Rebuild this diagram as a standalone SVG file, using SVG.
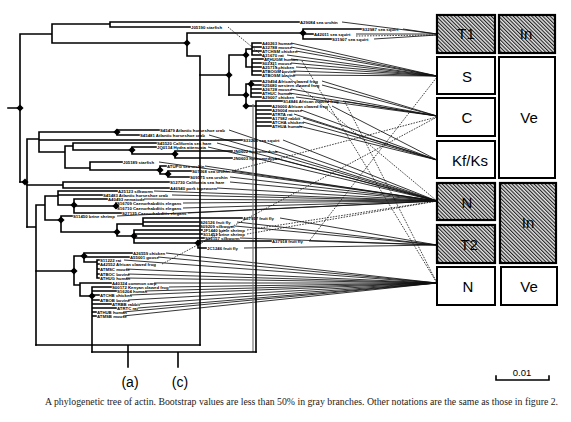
<svg xmlns="http://www.w3.org/2000/svg" xmlns:xlink="http://www.w3.org/1999/xlink" width="571" height="422" viewBox="0 0 571 422">
<style>
.br{stroke:#000;stroke-width:1.6;fill:none;stroke-linecap:square}
.gr{stroke:#777;stroke-width:1.2;fill:none}
.cn{stroke:#111;stroke-width:0.85;fill:none}
.dt{stroke:#111;stroke-width:0.8;fill:none;stroke-dasharray:1.6 1.2}
.lb{font-family:"Liberation Sans",Arial,sans-serif;font-size:4.3px;font-weight:bold;fill:#000}
.bx{stroke:#000;stroke-width:2;fill:#fff}
.hx{stroke:#000;stroke-width:2.2;fill:url(#hatch)}
.bt{font-family:"Liberation Sans",Arial,sans-serif;font-size:15px;fill:#000;text-anchor:middle}
.cap{font-family:"Liberation Serif","Times New Roman",serif;font-size:10px;fill:#222}
</style>
<defs>
<pattern id="hatch" width="2.6" height="2.6" patternUnits="userSpaceOnUse" patternTransform="rotate(-45)">
<rect width="2.6" height="2.6" fill="#e4e4e4"/>
<rect width="1.1" height="2.6" fill="#222"/>
</pattern>
<path id="dm" d="M0,-3.6L3.6,0L0,3.6L-3.6,0Z" fill="#000"/>
</defs>
<rect width="571" height="422" fill="#fff"/>

<g id="connectors">
<path class="cn" d="M342,22L437,34M403,29L437,34M356,34L437,34M374,39L437,35"/>
<path class="cn" d="M291,43L437,76M291,47L437,76M296,51L437,76M287,55L437,76M291,59L437,76M291,63L437,76M296,67L437,76M293,71L437,76M293,75L437,76"/>
<path class="cn" d="M322,81L437,116M322,85L437,116M291,89L437,116M289,93L437,116M296,97L437,116M343,101L437,116"/>
<path class="cn" d="M332,106L437,160M301,110L437,160M294,114L437,160M303,118L437,160M303,122L437,160M299,126L437,160"/>
<path class="cn" d="M229,130L437,201M209,135L437,201M283,140L437,201M217,143L437,201M208,147L437,201M275,151L437,201M275,158L437,201M159,162L437,201M205,166L437,201M232,171L437,201M230,177L437,201M230,182L437,201M217,188L437,201M154,191L437,201M172,195L437,201M144,199L437,201M183,203L437,201M183,208L437,201M188,213L437,201M117,216L437,201"/>
<path class="cn" d="M280,218L437,245M237,222L437,245M235,226L437,245M240,238L437,245M309,241L437,245M244,248L437,245"/>
<path class="cn" d="M166,253L437,283M158,257L437,283M124,260L437,283M126,269L437,283M128,274L437,283M126,278L437,283M154,283L437,283M169,287L437,283M145,291L437,283M130,295L437,283M128,300L437,283M140,304L437,283M138,308L437,283M123,312L437,283M123,316L437,283"/>
<path class="dt" d="M228,27L437,201M247,230L437,201M247,234L437,201M162,264L437,117M232,171L437,117M310,240L437,77M302,61L437,283M345,102L437,283M356,36L437,35"/>
</g>

<g id="tree">
<path class="br" d="M8,108H20M20,34V182M20,34H52M52,24V43M52,24H110M110,22V27M110,22H299M110,27H190M52,43H187M187,33V56M187,33H303M303,29V39M303,29H361M303,34H313M303,39H331M187,56H200M200,56V345"/>
<path class="br" d="M200,75H229M229,55V95M229,55H246M246,49V67M246,49H252M252,43V55M252,43H261M252,47H261M252,51H261M252,55H261M246,67H252M252,59V75M252,59H263M252,63H261M252,67H261M252,71H261M252,75H261"/>
<path class="br" d="M229,95H246M246,84V106M246,84H251M251,81V97M251,81H261M251,85H261M251,89H261M251,93H261M251,97H261M246,106H256M256,101V352M256,101H282M256,106H271M256,110H271M256,114H271M256,118H271M256,122H271M256,126H271"/>
<path class="gr" d="M253,104V352"/>
<path class="br" d="M20,182H27M27,139V227M27,139H39M39,132V152M39,132H117M117,130V135M117,130H159M117,135H139M39,140H242M39,152H65M65,146V168M65,146H73M73,143V150M73,143H156M73,150H132M132,147V154M132,147H156M132,154H175M175,151V158M175,151H232M175,158H232M65,168H90M90,162V170M90,162H122M90,170H160M160,166V174M160,166H166M160,174H168M168,171V177M168,171H191M168,177H189"/>
<path class="br" d="M27,185H63M63,182V188M63,182H169M63,188H169"/>
<path class="br" d="M27,227H36M36,205V345M36,205H45M45,196V220M45,196H58M58,191V205M58,191H117M58,195H102M58,205H74M74,199V213M74,199H107M74,206H116M116,203V208M74,213H121M45,220H61M61,216V232M61,216H72M61,232H117M117,224V236M117,224H143M143,218V226M143,218H242M143,222H199M143,226H199M117,236H134M134,230V243M134,230H202M134,234H202M134,238H204M134,243H198M198,241V248M198,241H271M198,248H206"/>
<path class="br" d="M36,271H74M74,256V285M74,256H84M84,253V262M84,253H132M84,257H129M84,262H97M97,260V278M97,260H99M97,264H99M97,269H99M97,274H99M97,278H99M74,285H80M80,283V296M80,283H111M80,296H92M92,287V352M92,287H111M92,291H116M92,295H99M92,300H99M92,304H111M92,308H116M92,312H96M92,316H96"/>
<path class="br" stroke-width="1.3" d="M36,345H200M92,352H256M128,345V367M178,352V367"/>
<g id="diamonds">
<use xlink:href="#dm" x="20" y="108"/><use xlink:href="#dm" x="187" y="43"/><use xlink:href="#dm" x="303" y="33"/>
<use xlink:href="#dm" x="229" y="75"/><use xlink:href="#dm" x="246" y="55"/><use xlink:href="#dm" x="246" y="95"/>
<use xlink:href="#dm" x="251" y="84"/><use xlink:href="#dm" x="246" y="106"/><use xlink:href="#dm" x="117" y="132"/>
<use xlink:href="#dm" x="132" y="150"/><use xlink:href="#dm" x="175" y="154"/><use xlink:href="#dm" x="160" y="170"/>
<use xlink:href="#dm" x="168" y="174"/><use xlink:href="#dm" x="25" y="182"/><use xlink:href="#dm" x="74" y="205"/>
<use xlink:href="#dm" x="116" y="206"/><use xlink:href="#dm" x="61" y="220"/><use xlink:href="#dm" x="117" y="232"/>
<use xlink:href="#dm" x="134" y="236"/><use xlink:href="#dm" x="198" y="243"/><use xlink:href="#dm" x="74" y="271"/>
<use xlink:href="#dm" x="84" y="256"/><use xlink:href="#dm" x="92" y="296"/>
</g>
</g>

<g id="labels" class="lb">
<text x="300" y="23.6">A29084 sea urchin</text>
<text x="191" y="28.6">J05190 starfish</text>
<text x="362" y="30.6">S32987 sea squirt</text>
<text x="314" y="35.6">A42011 sea squirt</text>
<text x="332" y="40.6">S31907 sea squirt</text>
<text x="262" y="44.6">A40263 human</text>
<text x="262" y="48.6">A32788 mouse</text>
<text x="262" y="52.6">ATCHSM chicken</text>
<text x="262" y="56.6">A31670 rat</text>
<text x="264" y="60.6">ATHUGM human</text>
<text x="262" y="64.6">S02331 mouse</text>
<text x="262" y="68.6">A25719 chicken</text>
<text x="262" y="72.6">ATBOGM bovine</text>
<text x="262" y="76.6">ATBOSM bovine</text>
<text x="262" y="82.6">A29494 African clawed frog</text>
<text x="262" y="86.6">S25680 western clawed frog</text>
<text x="262" y="90.6">A26728 mouse</text>
<text x="262" y="94.6">ATHUC human</text>
<text x="262" y="98.6">A29007 chicken</text>
<text x="283" y="102.6">S14846 African clawed frog</text>
<text x="272" y="107.6">A29000 African clawed frog</text>
<text x="272" y="111.6">A29004 mouse</text>
<text x="272" y="115.6">ATRTA rat</text>
<text x="272" y="119.6">A17982 rabbit</text>
<text x="272" y="123.6">ATCHA chicken</text>
<text x="272" y="127.6">ATHUA human</text>
<text x="160" y="131.6">S45479 Atlantic horseshoe crab</text>
<text x="140" y="136.6">S45481 Atlantic horseshoe crab</text>
<text x="243" y="141.6">S33266 sea squirt</text>
<text x="157" y="144.6">S45520 California sea hare</text>
<text x="157" y="148.6">JQ0134 Hydra attenuata</text>
<text x="233" y="152.6">JN0602 hydromedusa</text>
<text x="233" y="159.6">JN0603 hydromedusa</text>
<text x="123" y="163.6">J05189 starfish</text>
<text x="167" y="167.6">ATUPG sea urchin</text>
<text x="192" y="172.6">S07268 sea urchin</text>
<text x="190" y="178.6">S09575 sea urchin</text>
<text x="170" y="183.6">S12730 California sea hare</text>
<text x="170" y="189.6">A46940 pork tapeworm</text>
<text x="118" y="192.6">A25123 silkworm</text>
<text x="103" y="196.6">S45483 Atlantic horseshoe crab</text>
<text x="108" y="200.6">A40493 nematode</text>
<text x="117" y="204.6">S16709 Caenorhabditis elegans</text>
<text x="117" y="209.6">S16710 Caenorhabditis elegans</text>
<text x="122" y="214.6">S27135 Caenorhabditis elegans</text>
<text x="73" y="217.6">S11450 brine shrimp</text>
<text x="243" y="219.6">A37917 fruit fly</text>
<text x="200" y="223.6">S26126 fruit fly</text>
<text x="200" y="227.6">S09209 silkworm</text>
<text x="203" y="231.6">JF1440 brine shrimp</text>
<text x="203" y="235.6">S11451 brine shrimp</text>
<text x="205" y="239.6">S06157 silkworm</text>
<text x="272" y="242.6">A37918 fruit fly</text>
<text x="207" y="249.6">JC1246 fruit fly</text>
<text x="133" y="254.6">A26559 chicken</text>
<text x="130" y="258.6">A55001 goose</text>
<text x="100" y="261.6">S11222 rat</text>
<text x="100" y="265.6">A42552 African clawed frog</text>
<text x="100" y="270.6">ATMSC mouse</text>
<text x="100" y="275.6">ATBOC bovine</text>
<text x="100" y="279.6">ATHUG human</text>
<text x="112" y="284.6">A40324 common carp</text>
<text x="112" y="288.6">S00172 Kenyan clawed frog</text>
<text x="117" y="292.6">S16204 human</text>
<text x="100" y="296.6">ATCHB chicken</text>
<text x="100" y="301.6">ATBOB bovine</text>
<text x="112" y="305.6">ATRBB rabbit</text>
<text x="117" y="309.6">ATRTC rat</text>
<text x="97" y="313.6">ATHUB human</text>
<text x="97" y="317.6">ATMSB mouse</text>
</g>

<g id="box-T1"><rect class="hx" x="437" y="15" width="58" height="38"/><text class="bt" x="466" y="39">T1</text></g>
<g id="box-In1"><rect class="hx" x="499" y="15" width="56" height="38"/><text class="bt" x="526" y="39">In</text></g>
<g id="box-S"><rect class="bx" x="437" y="57" width="58" height="37"/><text class="bt" x="467" y="82">S</text></g>
<g id="box-C"><rect class="bx" x="437" y="98" width="58" height="38"/><text class="bt" x="467" y="123">C</text></g>
<g id="box-KfKs"><rect class="bx" x="437" y="141" width="58" height="37"/><text class="bt" x="470" y="166">Kf/Ks</text></g>
<g id="box-Ve1"><rect class="bx" x="499" y="57" width="56" height="121"/><text class="bt" x="529" y="123">Ve</text></g>
<g id="box-N1"><rect class="hx" x="437" y="183" width="58" height="37"/><text class="bt" x="467" y="208">N</text></g>
<g id="box-In2"><rect class="hx" x="500" y="183" width="56" height="80"/><text class="bt" x="528" y="228">In</text></g>
<g id="box-T2"><rect class="hx" x="437" y="225" width="58" height="38"/><text class="bt" x="469" y="250">T2</text></g>
<g id="box-N2"><rect class="bx" x="437" y="267" width="58" height="38"/><text class="bt" x="468" y="292">N</text></g>
<g id="box-Ve2"><rect class="bx" x="501" y="267" width="56" height="38"/><text class="bt" x="529" y="292">Ve</text></g>

<g id="brackets-labels">
<text x="130" y="387" font-family="Liberation Sans, Arial, sans-serif" font-size="14" text-anchor="middle">(a)</text>
<text x="180" y="387" font-family="Liberation Sans, Arial, sans-serif" font-size="14" text-anchor="middle">(c)</text>
</g>
<g id="scale">
<path class="br" stroke-width="1.2" d="M496,376V380H549V376"/>
<text x="522" y="376" font-family="Liberation Sans, Arial, sans-serif" font-size="9.5" text-anchor="middle">0.01</text>
</g>
<text class="cap" x="45" y="405" textLength="513" lengthAdjust="spacingAndGlyphs">A phylogenetic tree of actin. Bootstrap values are less than 50% in gray branches. Other notations are the same as those in figure 2.</text>
</svg>
